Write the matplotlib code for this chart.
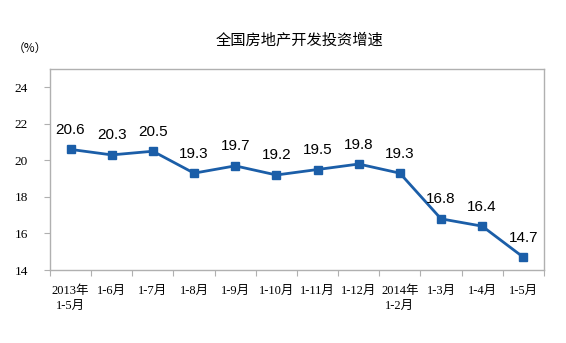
import matplotlib.pyplot as plt

plt.rcParams['font.family'] = ['Liberation Serif', 'Noto Sans CJK SC']

categories = ['2013年\n1-5月', '1-6月', '1-7月', '1-8月', '1-9月', '1-10月',
              '1-11月', '1-12月', '2014年\n1-2月', '1-3月', '1-4月', '1-5月']
growth = [20.6, 20.3, 20.5, 19.3, 19.7, 19.2, 19.5, 19.8, 19.3, 16.8, 16.4, 14.7]
y_ticks = [14, 16, 18, 20, 22, 24]

LINE_COLOR = '#1b5ea8'
GRID_GRAY = '#b0b0b0'

fig = plt.figure(figsize=(5.66, 3.43), dpi=100)
ax = fig.add_axes([0.0883, 0.2128, 0.8727, 0.586])

x = list(range(len(categories)))
ax.plot(x, growth, color=LINE_COLOR, lw=2.0, marker='s', ms=5.5,
        markerfacecolor=LINE_COLOR, markeredgecolor=LINE_COLOR)

for xi, v in zip(x, growth):
    ax.annotate(f'{v:.1f}', (xi, v), xytext=(0, 9), textcoords='offset points',
                ha='center', va='bottom', fontsize=11,
                family=['Liberation Sans', 'Noto Sans CJK SC'])

ax.set_xlim(-0.5, len(categories) - 0.5)
ax.set_ylim(14, 25)
ax.set_yticks(y_ticks)
ax.set_yticklabels([str(t) for t in y_ticks], fontsize=9.5)

# ticks sit between categories, labels sit under each point
ax.set_xticks([i - 0.5 for i in range(len(categories) + 1)])
ax.set_xticklabels([])
ax.set_xticks(x, minor=True)
ax.set_xticklabels(categories, minor=True, fontsize=9, linespacing=1.25, va='top')
ax.tick_params(axis='x', which='minor', length=0, pad=11)
ax.tick_params(axis='x', which='major', length=4, color=GRID_GRAY, direction='out')
ax.tick_params(axis='y', length=4, color=GRID_GRAY, direction='out', pad=12)

for s in ax.spines.values():
    s.set_color(GRID_GRAY)
    s.set_linewidth(1.0)

fig.text(0.53, 0.883, '全国房地产开发投资增速', ha='center', va='center',
         fontsize=11, family=['Noto Sans CJK SC'])
fig.text(0.053, 0.86, '（%）', ha='center', va='center', fontsize=8.5,
         family=['Noto Sans CJK SC'])

fig.savefig('out.png', dpi=100)
